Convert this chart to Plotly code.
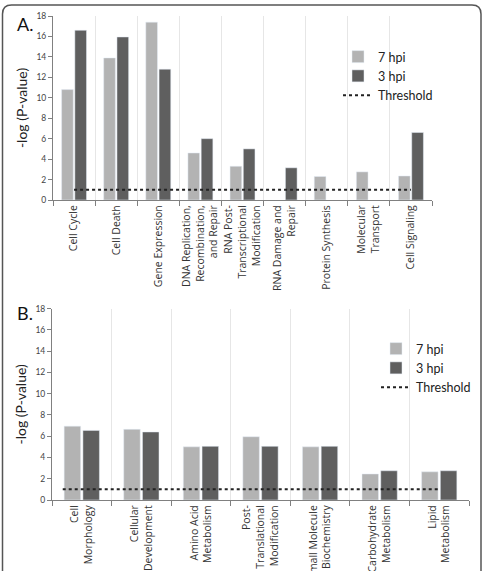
import plotly.graph_objects as go

# ---------------- data ----------------
cats_A = ["Cell Cycle", "Cell Death", "Gene Expression",
          "DNA Replication,<br>Recombination,<br>and Repair",
          "RNA Post-<br>Transcriptional<br>Modification",
          "RNA Damage and<br>Repair", "Protein Synthesis",
          "Molecular<br>Transport", "Cell Signaling"]
hpi7_A = [10.8, 13.9, 17.4, 4.6, 3.3, None, 2.3, 2.75, 2.35]
hpi3_A = [16.6, 15.95, 12.8, 6.0, 5.0, 3.15, None, None, 6.6]

cats_B = ["Cell<br>Morphology", "Cellular<br>Development",
          "Amino Acid<br>Metabolism",
          "Post-<br>Translational<br>Modification",
          "Small Molecule<br>Biochemistry",
          "Carbohydrate<br>Metabolism", "Lipid<br>Metabolism"]
hpi7_B = [6.95, 6.65, 5.0, 5.95, 5.0, 2.45, 2.65]
hpi3_B = [6.55, 6.4, 5.05, 5.05, 5.05, 2.75, 2.75]

threshold_value = 1
threshold_x_A = [0, 8]
threshold_x_B = [-0.32, 6]

y_ticks = [0, 2, 4, 6, 8, 10, 12, 14, 16, 18]

# ---------------- style ----------------
W, H = 484, 571
C7 = "#b3b3b3"
C3 = "#5f5f5f"
FONT = "Lato"
TICKFONT = "Open Sans"
AXC = "#808080"


def px(x):
    return x / W


def py(y):
    return 1 - y / H


idx_A = list(range(len(cats_A)))
idx_B = list(range(len(cats_B)))

fig = go.Figure()

# Panel A
fig.add_trace(go.Bar(x=idx_A, y=hpi7_A, name="7 hpi", marker_color=C7,
                     xaxis="x", yaxis="y", legend="legend"))
fig.add_trace(go.Bar(x=idx_A, y=hpi3_A, name="3 hpi", marker_color=C3,
                     xaxis="x", yaxis="y", legend="legend"))
fig.add_trace(go.Scatter(x=threshold_x_A, y=[threshold_value] * 2, name="Threshold",
                         mode="lines", line=dict(color="#222222", width=2, dash="dot"),
                         xaxis="x", yaxis="y", legend="legend"))
# Panel B
fig.add_trace(go.Bar(x=idx_B, y=hpi7_B, name="7 hpi", marker_color=C7,
                     xaxis="x2", yaxis="y2", legend="legend2"))
fig.add_trace(go.Bar(x=idx_B, y=hpi3_B, name="3 hpi", marker_color=C3,
                     xaxis="x2", yaxis="y2", legend="legend2"))
fig.add_trace(go.Scatter(x=threshold_x_B, y=[threshold_value] * 2, name="Threshold",
                         mode="lines", line=dict(color="#222222", width=2, dash="dot"),
                         xaxis="x2", yaxis="y2", legend="legend2"))


def xaxis_cfg(n, cats, domain, anchor):
    return dict(
        domain=domain, anchor=anchor, range=[-0.5, n - 0.5],
        automargin=False,
        tickmode="array", tickvals=list(range(n)), ticktext=cats,
        tickangle=-90, ticks="", showgrid=False, zeroline=False,
        showline=True, linecolor=AXC, linewidth=1,
        tickfont=dict(family=TICKFONT, size=10.5, color="#333333"),
        minor=dict(tickvals=[i - 0.5 for i in range(n + 1)], ticks="outside",
                   ticklen=5, tickcolor=AXC, showgrid=True,
                   gridcolor="#e6e6e6", gridwidth=1),
        fixedrange=True,
    )


def yaxis_cfg(domain, anchor):
    return dict(
        domain=domain, anchor=anchor, range=[0, 18],
        automargin=False,
        tickmode="array", tickvals=y_ticks,
        ticks="outside", ticklen=4, tickcolor=AXC,
        showline=True, linecolor=AXC, linewidth=1,
        showgrid=False, zeroline=False,
        tickfont=dict(family=FONT, size=8.5, color="#444444"),
        title=dict(text="-log (P-value)", standoff=5,
                   font=dict(family=FONT, size=14, color="#222222")),
    )


frame_l, frame_r, frame_t, frame_b, r = 2.5, 481, 5, 580, 9
frame_path = (
    f"M {px(frame_l)},{py(frame_b)} "
    f"L {px(frame_l)},{py(frame_t + r)} "
    f"Q {px(frame_l)},{py(frame_t)} {px(frame_l + r)},{py(frame_t)} "
    f"L {px(frame_r - r)},{py(frame_t)} "
    f"Q {px(frame_r)},{py(frame_t)} {px(frame_r)},{py(frame_t + r)} "
    f"L {px(frame_r)},{py(frame_b)}"
)

legend_common = dict(
    xanchor="left", yanchor="top", bgcolor="rgba(0,0,0,0)",
    font=dict(family=FONT, size=12.5, color="#222222"),
    itemwidth=30, tracegroupgap=0, traceorder="normal",
)

fig.update_layout(
    width=W, height=H,
    margin=dict(l=0, r=0, t=0, b=0, autoexpand=False),
    paper_bgcolor="white", plot_bgcolor="white",
    barmode="group", bargap=0.37, bargroupgap=0.12,
    xaxis=xaxis_cfg(len(cats_A), cats_A, [px(53), px(432)], "y"),
    yaxis=yaxis_cfg([py(200), py(16)], "x"),
    xaxis2=xaxis_cfg(len(cats_B), cats_B, [px(52), px(469)], "y2"),
    yaxis2=yaxis_cfg([py(500), py(308.7)], "x2"),
    legend=dict(x=px(338), y=py(42), **legend_common),
    legend2=dict(x=px(376), y=py(334), **legend_common),
    shapes=[dict(type="path", path=frame_path, xref="paper", yref="paper",
                 line=dict(color="#555555", width=1.5))],
    annotations=[
        dict(text="A.", x=px(15), y=py(24), xref="paper", yref="paper",
             xanchor="left", yanchor="middle", showarrow=False,
             font=dict(family=FONT, size=18, color="#111111")),
        dict(text="B.", x=px(15), y=py(313), xref="paper", yref="paper",
             xanchor="left", yanchor="middle", showarrow=False,
             font=dict(family=FONT, size=18, color="#111111")),
    ],
    showlegend=True,
)

fig.write_html("out.html")
